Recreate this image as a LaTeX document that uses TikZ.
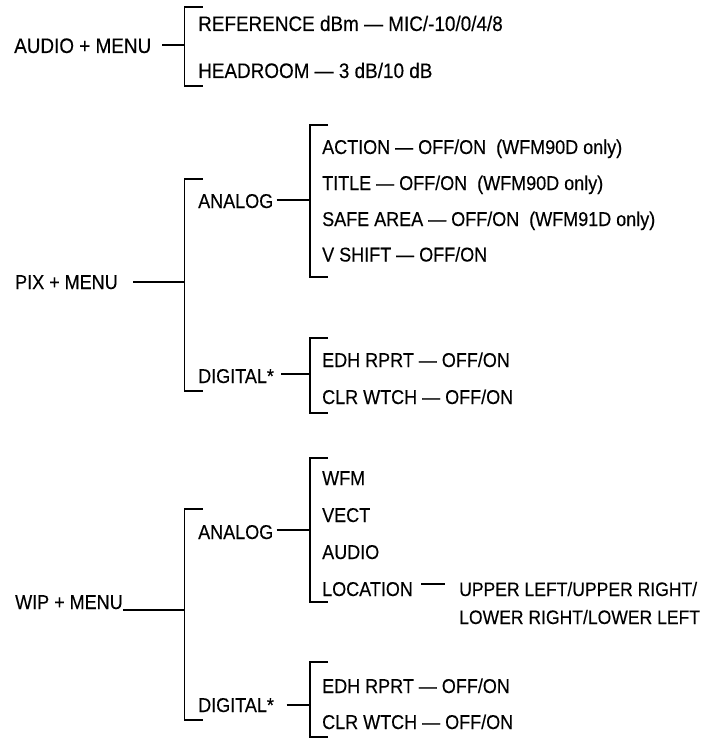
\documentclass[tikz,border=0pt]{standalone}
\usepackage{fontspec}
\setmainfont[FakeStretch=0.9,FakeBold=0.3]{Liberation Sans}
\begin{document}
\begin{tikzpicture}[x=1pt,y=-1pt,
  bigtxt/.style={anchor=base west, inner sep=0pt, font=\fontsize{21}{24}\selectfont},
  txt/.style={anchor=base west, inner sep=0pt, font=\fontsize{20}{23}\selectfont},
  smalltxt/.style={anchor=base west, inner sep=0pt, font=\fontsize{19.5}{22}\selectfont},
  ln/.style={line width=1.1pt, black}]
\useasboundingbox (0,0) rectangle (702,738);

% ---------- AUDIO ----------
\node[bigtxt] (audio) at (14,53) {AUDIO + MENU};
\node[bigtxt] (ref) at (198,31) {REFERENCE dBm — MIC/-10/0/4/8};
\node[bigtxt] (head) at (198,78) {HEADROOM — 3 dB/10 dB};
\coordinate (At) at (184.5,7); \coordinate (Ab) at (184.5,86);
\coordinate (Am) at (184.5,45); \coordinate (As) at (162,45);
\draw[ln] ([xshift=18pt]At) -- (At) -- (Ab) -- ([xshift=18pt]Ab);
\draw[ln] (As) -- (Am);

% ---------- PIX ----------
\node[txt] (pix) at (15,289) {PIX + MENU};
\coordinate (Pt) at (184.5,179); \coordinate (Pb) at (184.5,391);
\coordinate (Pm) at (184.5,282); \coordinate (Ps) at (133,282);
\draw[ln] ([xshift=18pt]Pt) -- (Pt) -- (Pb) -- ([xshift=18pt]Pb);
\draw[ln] (Ps) -- (Pm);

\node[txt] (pan) at (198,208) {ANALOG};
\coordinate (PAt) at (310,125); \coordinate (PAb) at (310,277);
\coordinate (PAm) at (310,200); \coordinate (PAs) at (276.5,200);
\draw[ln] ([xshift=18pt]PAt) -- (PAt) -- (PAb) -- ([xshift=18pt]PAb);
\draw[ln] (PAs) -- (PAm);
\node[txt] (action) at (322,154) {ACTION — OFF/ON\ \ (WFM90D only)};
\node[txt] (title) at (322,190) {TITLE — OFF/ON\ \ (WFM90D only)};
\node[txt] (safe) at (322,226) {SAFE AREA — OFF/ON\ \ (WFM91D only)};
\node[txt] (vshift) at (322,261.5) {V SHIFT — OFF/ON};

\node[txt] (pdig) at (198,383) {DIGITAL*};
\coordinate (PDt) at (310,338); \coordinate (PDb) at (310,413);
\coordinate (PDm) at (310,374); \coordinate (PDs) at (281,374);
\draw[ln] ([xshift=18pt]PDt) -- (PDt) -- (PDb) -- ([xshift=18pt]PDb);
\draw[ln] (PDs) -- (PDm);
\node[txt] (pedh) at (322,367) {EDH RPRT — OFF/ON};
\node[txt] (pclr) at (322,404) {CLR WTCH — OFF/ON};

% ---------- WIP ----------
\node[txt] (wip) at (15,609) {WIP + MENU};
\coordinate (Wt) at (184.5,509); \coordinate (Wb) at (184.5,720);
\coordinate (Wm) at (184.5,610);
\draw[ln] ([xshift=18pt]Wt) -- (Wt) -- (Wb) -- ([xshift=18pt]Wb);
\draw[ln] (wip.east |- Wm) -- (Wm);

\node[txt] (wan) at (198,539) {ANALOG};
\coordinate (WAt) at (310,458); \coordinate (WAb) at (310,602);
\coordinate (WAm) at (310,530); \coordinate (WAs) at (276.5,530);
\draw[ln] ([xshift=18pt]WAt) -- (WAt) -- (WAb) -- ([xshift=18pt]WAb);
\draw[ln] (WAs) -- (WAm);
\node[txt] (wfm) at (322,485) {WFM};
\node[txt] (vect) at (322,522) {VECT};
\node[txt] (waud) at (322,559) {AUDIO};
\node[txt] (loc) at (322,596) {LOCATION};
\node[smalltxt] (upper) at (459,596) {UPPER LEFT/UPPER RIGHT/};
\node[smalltxt] (lower) at (459,624) {LOWER RIGHT/LOWER LEFT};
\coordinate (Ls) at (421,584); \coordinate (Le) at (445,584);
\draw[ln] (Ls) -- (Le);

\node[txt] (wdig) at (198,712) {DIGITAL*};
\coordinate (WDt) at (310,662); \coordinate (WDb) at (310,737);
\coordinate (WDm) at (310,705); \coordinate (WDs) at (286.5,705);
\draw[ln] ([xshift=18pt]WDt) -- (WDt) -- (WDb) -- ([xshift=18pt]WDb);
\draw[ln] (WDs) -- (WDm);
\node[txt] (wedh) at (322,693) {EDH RPRT — OFF/ON};
\node[txt] (wclr) at (322,729) {CLR WTCH — OFF/ON};
\end{tikzpicture}
\end{document}
